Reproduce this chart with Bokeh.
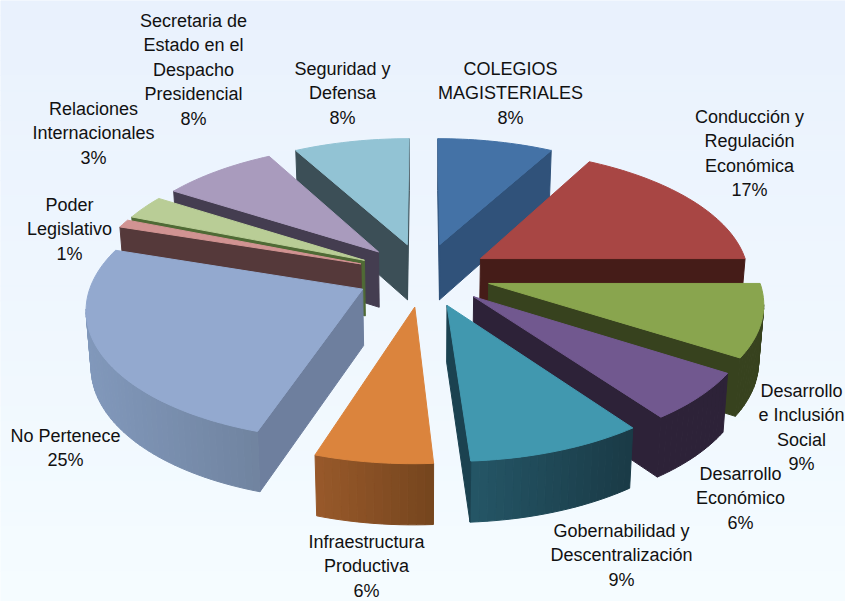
import numpy as np
from bokeh.plotting import figure
from bokeh.models import ColumnDataSource
from bokeh.core.properties import value
from bokeh.embed import file_html
from bokeh.resources import INLINE

categories = ["COLEGIOS\nMAGISTERIALES", "Conducción y\nRegulación\nEconómica",
              "Desarrollo\ne Inclusión\nSocial", "Desarrollo\nEconómico",
              "Gobernabilidad y\nDescentralización", "Infraestructura\nProductiva",
              "No Pertenece", "Poder\nLegislativo", "Relaciones\nInternacionales",
              "Secretaria de\nEstado en el\nDespacho\nPresidencial", "Seguridad y\nDefensa"]
shares = [8, 17, 9, 6, 9, 6, 25, 1, 3, 8, 8]

top_colors = ["#4472a6", "#a84644", "#89a54e", "#71588f", "#4198af", "#db843d",
              "#93a9cf", "#d19392", "#b9cd96", "#a99bbd", "#92c3d4"]
side_colors = ["#30527a", "#451c18", "#37421e", "#2d2238", "#1b4250", "#7a471f",
               "#6e7f9e", "#55393a", "#4f6a35", "#443d50", "#3c4f57"]
rim_left = ["#30527a", "#451c18", "#37421e", "#2d2238", "#265a6b", "#98592a",
            "#8198bb", "#55393a", "#4f6a35", "#443d50", "#3c4f57"]
rim_right = ["#30527a", "#451c18", "#37421e", "#2d2238", "#1a3a46", "#75451e",
             "#66778f", "#55393a", "#4f6a35", "#443d50", "#3c4f57"]

label_x = [510, 749, 801, 740, 621, 366, 65, 69, 93, 193, 342]
label_y = [68, 116, 390, 473, 530, 541, 435, 204, 108, 20, 68]
line_step = 24.5

CX, CY, A, B, K, DEPTH, EXPLODE = 423, 274, 269, 127, 0.13, 56, 0.25
bg_top, bg_bottom = (233, 241, 253), (245, 252, 255)


def hexrgb(h):
    return np.array([int(h[i:i + 2], 16) for i in (1, 3, 5)], float)


def mix(a, b, f):
    c = hexrgb(a) * (1 - f) + hexrgb(b) * f
    return "#%02x%02x%02x" % tuple(int(round(v)) for v in c)


def proj(X, Y, low=False):
    s = 1 / (1 + K * Y)
    if low:
        return CX + A * X * s * 0.985, CY - B * Y * s + DEPTH * np.sqrt(s)
    return CX + A * X * s, CY - B * Y * s


fr = np.cumsum([0] + shares) / sum(shares) * 2 * np.pi
order = sorted(range(len(shares)), key=lambda i: -np.cos((fr[i] + fr[i + 1]) / 2))

xs, ys, cols = [], [], []
for i in order:
    t0, t1 = fr[i], fr[i + 1]
    mid = (t0 + t1) / 2
    ox, oy = EXPLODE * np.sin(mid), EXPLODE * np.cos(mid)
    ts = np.linspace(t0, t1, max(4, int((t1 - t0) * 40)))
    Xo = np.concatenate([[ox], ox + np.sin(ts), [ox]])
    Yo = np.concatenate([[oy], oy + np.cos(ts), [oy]])
    tx, ty = proj(Xo, Yo)
    lx, ly = proj(Xo, Yo, True)
    span = (tx.min(), tx.max())
    n = len(tx) - 1
    for k in range(n):
        if tx[k + 1] < tx[k]:
            on_rim = 1 <= k < n - 1
            f = ((tx[k] + tx[k + 1]) / 2 - span[0]) / max(span[1] - span[0], 1)
            xs.append([tx[k], tx[k + 1], lx[k + 1], lx[k]])
            ys.append([ty[k], ty[k + 1], ly[k + 1], ly[k]])
            cols.append(mix(rim_left[i], rim_right[i], f) if on_rim else side_colors[i])
    xs.append(list(tx[:-1]))
    ys.append(list(ty[:-1]))
    cols.append(top_colors[i])

p = figure(width=845, height=601, x_range=(0, 845), y_range=(601, 0), output_backend="svg",
           toolbar_location=None, min_border=0, outline_line_color=None)
p.axis.visible = False
p.grid.visible = False

edges = np.linspace(0, 601, 41)
fs = (edges[:-1] + edges[1:]) / 2 / 601
band = ["#%02x%02x%02x" % tuple(int(round(a + (b - a) * f)) for a, b in zip(bg_top, bg_bottom)) for f in fs]
p.quad(left=0, right=845, top=edges[:-1], bottom=edges[1:], fill_color=band, line_color=band, line_width=1)

p.patches(xs="xs", ys="ys", fill_color="c", line_color="c", line_width=1,
          source=ColumnDataSource(dict(xs=xs, ys=ys, c=cols)))

tx_, ty_, tt_ = [], [], []
for name, share, x, y in zip(categories, shares, label_x, label_y):
    for j, row in enumerate(name.split("\n") + [f"{share}%"]):
        tx_.append(x)
        ty_.append(y + j * line_step)
        tt_.append(row)
p.text(x="x", y="y", text="t", source=ColumnDataSource(dict(x=tx_, y=ty_, t=tt_)),
       text_font=value("Liberation Sans"), text_font_size="18px", text_color="#111111",
       text_align="center", text_baseline="middle")

open("out.html", "w").write(file_html(p, INLINE))
